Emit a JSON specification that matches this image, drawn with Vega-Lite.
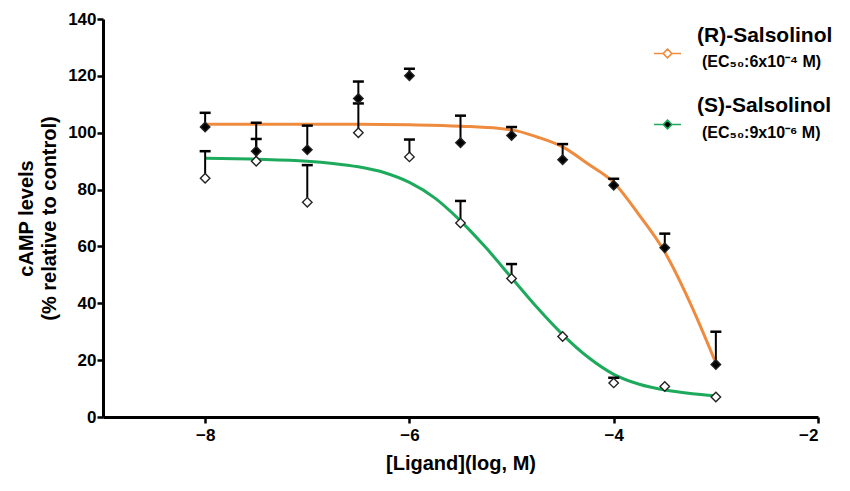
{
  "$schema": "https://vega.github.io/schema/vega-lite/v6.json",
  "width": 715,
  "height": 398,
  "autosize": "none",
  "padding": {"left": 103, "top": 19, "right": 32, "bottom": 74},
  "background": "white",
  "datasets": {
    "curves": [
      {"x": -8, "series": "(R)-Salsolinol", "y": 103},
      {"x": -7.5, "series": "(R)-Salsolinol", "y": 103},
      {"x": -7, "series": "(R)-Salsolinol", "y": 103},
      {"x": -6.5, "series": "(R)-Salsolinol", "y": 103},
      {"x": -6, "series": "(R)-Salsolinol", "y": 102.8},
      {"x": -5.5, "series": "(R)-Salsolinol", "y": 102.3},
      {"x": -5, "series": "(R)-Salsolinol", "y": 101},
      {"x": -4.75, "series": "(R)-Salsolinol", "y": 98.5},
      {"x": -4.5, "series": "(R)-Salsolinol", "y": 95},
      {"x": -4.25, "series": "(R)-Salsolinol", "y": 89},
      {"x": -4, "series": "(R)-Salsolinol", "y": 82.5},
      {"x": -3.75, "series": "(R)-Salsolinol", "y": 71},
      {"x": -3.5, "series": "(R)-Salsolinol", "y": 58},
      {"x": -3.25, "series": "(R)-Salsolinol", "y": 40},
      {"x": -3, "series": "(R)-Salsolinol", "y": 19},
      {"x": -8, "series": "(S)-Salsolinol", "y": 91},
      {"x": -7.5, "series": "(S)-Salsolinol", "y": 90.7},
      {"x": -7, "series": "(S)-Salsolinol", "y": 90},
      {"x": -6.75, "series": "(S)-Salsolinol", "y": 89.2},
      {"x": -6.5, "series": "(S)-Salsolinol", "y": 88},
      {"x": -6.25, "series": "(S)-Salsolinol", "y": 86},
      {"x": -6, "series": "(S)-Salsolinol", "y": 82.5},
      {"x": -5.75, "series": "(S)-Salsolinol", "y": 77},
      {"x": -5.5, "series": "(S)-Salsolinol", "y": 69},
      {"x": -5.25, "series": "(S)-Salsolinol", "y": 59.5},
      {"x": -5, "series": "(S)-Salsolinol", "y": 49},
      {"x": -4.75, "series": "(S)-Salsolinol", "y": 38.5},
      {"x": -4.5, "series": "(S)-Salsolinol", "y": 29},
      {"x": -4.25, "series": "(S)-Salsolinol", "y": 21},
      {"x": -4, "series": "(S)-Salsolinol", "y": 15},
      {"x": -3.75, "series": "(S)-Salsolinol", "y": 11.5},
      {"x": -3.5, "series": "(S)-Salsolinol", "y": 9.5},
      {"x": -3.25, "series": "(S)-Salsolinol", "y": 8.3},
      {"x": -3, "series": "(S)-Salsolinol", "y": 7.5}
    ],
    "points": [
      {"x": -8, "compound": "(R)-Salsolinol", "y": 102, "upper": 107},
      {"x": -7.5, "compound": "(R)-Salsolinol", "y": 93.5, "upper": 103.5},
      {"x": -7, "compound": "(R)-Salsolinol", "y": 94, "upper": 102.5},
      {"x": -6.5, "compound": "(R)-Salsolinol", "y": 112, "upper": 118},
      {"x": -6, "compound": "(R)-Salsolinol", "y": 120, "upper": 122.5},
      {"x": -5.5, "compound": "(R)-Salsolinol", "y": 96.5, "upper": 106},
      {"x": -5, "compound": "(R)-Salsolinol", "y": 99, "upper": 102},
      {"x": -4.5, "compound": "(R)-Salsolinol", "y": 90.5, "upper": 96},
      {"x": -4, "compound": "(R)-Salsolinol", "y": 81.5, "upper": 83.8},
      {"x": -3.5, "compound": "(R)-Salsolinol", "y": 59.5, "upper": 64.5},
      {"x": -3, "compound": "(R)-Salsolinol", "y": 18.5, "upper": 30},
      {"x": -8, "compound": "(S)-Salsolinol", "y": 84, "upper": 93.5},
      {"x": -7.5, "compound": "(S)-Salsolinol", "y": 90, "upper": 97.8},
      {"x": -7, "compound": "(S)-Salsolinol", "y": 75.5, "upper": 88.6},
      {"x": -6.5, "compound": "(S)-Salsolinol", "y": 100, "upper": 110.3},
      {"x": -6, "compound": "(S)-Salsolinol", "y": 91.5, "upper": 97.6},
      {"x": -5.5, "compound": "(S)-Salsolinol", "y": 68.2, "upper": 76},
      {"x": -5, "compound": "(S)-Salsolinol", "y": 48.7, "upper": 53.8},
      {"x": -4.5, "compound": "(S)-Salsolinol", "y": 28.3, "upper": null},
      {"x": -4, "compound": "(S)-Salsolinol", "y": 12, "upper": 13.8},
      {"x": -3.5, "compound": "(S)-Salsolinol", "y": 10.7, "upper": null},
      {"x": -3, "compound": "(S)-Salsolinol", "y": 7, "upper": null}
    ]
  },
  "encoding": {
    "x": {
      "field": "x",
      "type": "quantitative",
      "scale": {"domain": [-9, -2], "nice": false},
      "axis": {"values": [-8, -6, -4, -2], "title": "[Ligand](log, M)", "labelPadding": 4, "titlePadding": 10}
    },
    "y": {
      "field": "y",
      "type": "quantitative",
      "scale": {"domain": [0, 140], "nice": false},
      "axis": {
        "values": [0, 20, 40, 60, 80, 100, 120, 140],
        "title": ["cAMP levels", "(% relative to control)"],
        "titleLineHeight": 23,
        "labelPadding": 1,
        "titlePadding": 8
      }
    }
  },
  "layer": [
    {
      "data": {"name": "curves"},
      "mark": {"type": "line", "strokeWidth": 3, "interpolate": "monotone"},
      "encoding": {
        "color": {
          "field": "series",
          "type": "nominal",
          "scale": {"domain": ["(R)-Salsolinol", "(S)-Salsolinol"], "range": ["#EE8B3E", "#1DAA5C"]},
          "legend": {
            "orient": "none",
            "legendX": 550,
            "legendY": 20,
            "title": null,
            "padding": 0,
            "symbolType": "M-1,0L-0.32,0M0.32,0L1,0M0,-0.32L0.32,0L0,0.32L-0.32,0Z",
            "symbolSize": 729,
            "symbolStrokeWidth": 1.6,
            "labelExpr": "datum.label == '(R)-Salsolinol' ? '(EC₅₀:6x10⁻⁴  M)' : '(EC₅₀:9x10⁻⁶  M)'",
            "labelFont": "Liberation Sans",
            "labelFontSize": 16,
            "labelFontWeight": "bold",
            "labelColor": "black",
            "labelBaseline": "top",
            "labelOffset": 20,
            "labelLimit": 300,
            "rowPadding": 40,
            "encode": {
              "symbols": {
                "enter": {
                  "fill": {"signal": "datum.value === '(R)-Salsolinol' ? '#ffffff' : '#000000'"}
                },
                "update": {
                  "fill": {"signal": "datum.value === '(R)-Salsolinol' ? '#ffffff' : '#000000'"},
                  "fillOpacity": {"value": 1}
                }
              }
            }
          }
        }
      }
    },
    {
      "data": {"name": "points"},
      "transform": [{"filter": "isValid(datum.upper)"}],
      "mark": {"type": "rule", "color": "black", "strokeWidth": 2},
      "encoding": {
        "y2": {"field": "upper"},
        "opacity": {
          "field": "compound",
          "type": "nominal",
          "scale": {"range": [1, 1]},
          "legend": {
            "orient": "none",
            "legendX": 550,
            "legendY": 3,
            "title": null,
            "padding": 0,
            "symbolOpacity": 0,
            "symbolStrokeWidth": 0,
            "symbolSize": 729,
            "labelFont": "Liberation Sans",
            "labelFontSize": 21,
            "labelFontWeight": "bold",
            "labelColor": "black",
            "labelBaseline": "middle",
            "labelOffset": 17,
            "labelLimit": 300,
            "rowPadding": 46
          }
        }
      }
    },
    {
      "data": {"name": "points"},
      "transform": [{"filter": "isValid(datum.upper)"}],
      "mark": {"type": "tick", "orient": "horizontal", "color": "black", "size": 11, "thickness": 2.5, "opacity": 1},
      "encoding": {"y": {"field": "upper", "type": "quantitative"}}
    },
    {
      "data": {"name": "points"},
      "mark": {"type": "point", "shape": "diamond", "size": 90, "stroke": "#222222", "strokeWidth": 1.4, "filled": false, "opacity": 1},
      "encoding": {
        "fill": {
          "field": "compound",
          "type": "nominal",
          "scale": {"range": ["black", "white"]},
          "legend": null
        },
        "fillOpacity": {"value": 1}
      }
    }
  ],
  "config": {
    "view": {"stroke": null},
    "axis": {
      "grid": false,
      "domainColor": "black",
      "domainWidth": 3,
      "tickColor": "black",
      "tickWidth": 2.5,
      "tickSize": 6,
      "labelFont": "Liberation Sans",
      "labelFontSize": 17,
      "labelFontWeight": "bold",
      "labelColor": "black",
      "titleFont": "Liberation Sans",
      "titleFontSize": 20,
      "titleFontWeight": "bold",
      "titleColor": "black"
    }
  }
}
